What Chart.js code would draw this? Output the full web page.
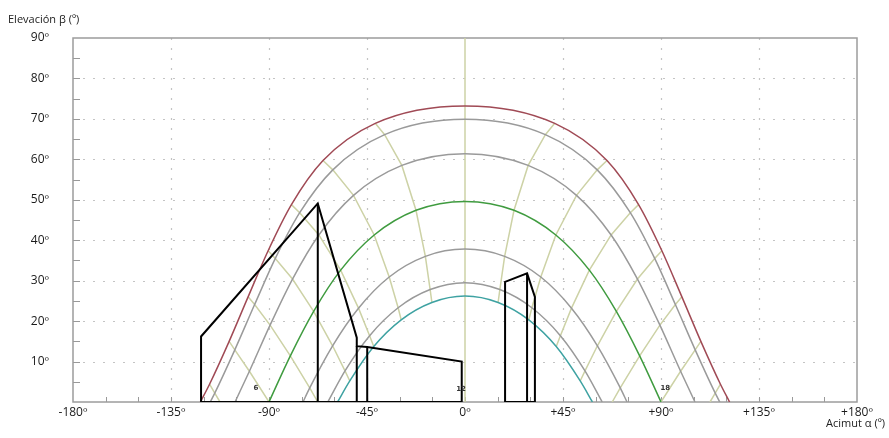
<!DOCTYPE html>
<html>
<head>
<meta charset="utf-8">
<script src="https://cdn.jsdelivr.net/npm/chart.js@4.4.1/dist/chart.umd.min.js"></script>
<style>
  body { margin: 0; background: #fff; }
  #wrap { width: 889px; height: 438px; }
</style>
</head>
<body>
<div id="wrap"><canvas id="sunChart" width="889" height="438"></canvas></div>
<script>
// axis ticks
const azTicks = [-180, -135, -90, -45, 0, 45, 90, 135, 180];
const azLabels = ['-180º', '-135º', '-90º', '-45º', '0º', '+45º', '+90º', '+135º', '+180º'];
const elTicks = [0, 10, 20, 30, 40, 50, 60, 70, 80, 90];
const elLabels = ['', '10º', '20º', '30º', '40º', '50º', '60º', '70º', '80º', '90º'];

// sun paths, [azimut, elevación] read at each solar hour
const pathJun = [[-121.5,0],[-117.3,4.4],[-108.3,15.0],[-99.6,26.0],[-90.4,37.4],[-79.7,48.8],[-65.2,59.7],[-41.2,68.9],[0,73.2],
                 [41.2,68.9],[65.2,59.7],[79.7,48.8],[90.4,37.4],[99.6,26.0],[108.3,15.0],[117.3,4.4],[121.5,0]];
const pathMay = [[-117.0,0],[-114.9,2.2],[-105.7,12.9],[-96.6,24.1],[-87.1,35.5],[-75.9,46.8],[-60.7,57.4],[-36.9,66.1],[0,69.9],
                 [36.9,66.1],[60.7,57.4],[75.9,46.8],[87.1,35.5],[96.6,24.1],[105.7,12.9],[114.9,2.2],[117.0,0]];
const pathApr = [[-105.6,0],[-99.0,7.6],[-89.5,19.0],[-79.2,30.4],[-67.1,41.3],[-51.2,51.1],[-29.0,58.5],[0,61.4],
                 [29.0,58.5],[51.2,51.1],[67.1,41.3],[79.2,30.4],[89.5,19.0],[99.0,7.6],[105.6,0]];
const pathMar = [[-90,0],[-80.2,11.4],[-69.5,22.4],[-57.1,32.6],[-41.7,41.3],[-22.5,47.4],[0,49.6],
                 [22.5,47.4],[41.7,41.3],[57.1,32.6],[69.5,22.4],[80.2,11.4],[90,0]];
const pathFeb = [[-74.4,0],[-71.3,3.5],[-60.8,13.9],[-48.9,23.2],[-34.8,30.9],[-18.2,36.0],[0,37.8],
                 [18.2,36.0],[34.8,30.9],[48.9,23.2],[60.8,13.9],[71.3,3.5],[74.4,0]];
const pathJan = [[-63.0,0],[-55.1,7.7],[-43.8,16.4],[-30.7,23.3],[-16.0,27.8],[0,29.5],
                 [16.0,27.8],[30.7,23.3],[43.8,16.4],[55.1,7.7],[63.0,0]];
const pathDec = [[-58.5,0],[-52.9,5.2],[-41.9,13.7],[-29.3,20.3],[-15.2,24.6],[0,26.2],
                 [15.2,24.6],[29.3,20.3],[41.9,13.7],[52.9,5.2],[58.5,0]];

// hour lines (solar time)
const hour5  = [[-117.3,4.4],[-114.9,2.2],[-112.5,0]];
const hour6  = [[-108.3,15.0],[-105.7,12.9],[-99.0,7.6],[-90,0]];
const hour7  = [[-99.6,26.0],[-96.6,24.1],[-89.5,19.0],[-80.2,11.4],[-71.3,3.5],[-67.6,0]];
const hour8  = [[-90.4,37.4],[-87.1,35.5],[-79.2,30.4],[-69.5,22.4],[-60.8,13.9],[-55.1,7.7],[-52.9,5.2]];
const hour9  = [[-79.7,48.8],[-75.9,46.8],[-67.1,41.3],[-57.1,32.6],[-48.9,23.2],[-43.8,16.4],[-41.9,13.7]];
const hour10 = [[-65.2,59.7],[-60.7,57.4],[-51.2,51.1],[-41.7,41.3],[-34.8,30.9],[-30.7,23.3],[-29.3,20.3]];
const hour11 = [[-41.2,68.9],[-36.9,66.1],[-29.0,58.5],[-22.5,47.4],[-18.2,36.0],[-16.0,27.8],[-15.2,24.6]];
const hour12 = [[0,0],[0,90]];
const hour13 = [[41.2,68.9],[36.9,66.1],[29.0,58.5],[22.5,47.4],[18.2,36.0],[16.0,27.8],[15.2,24.6]];
const hour14 = [[65.2,59.7],[60.7,57.4],[51.2,51.1],[41.7,41.3],[34.8,30.9],[30.7,23.3],[29.3,20.3]];
const hour15 = [[79.7,48.8],[75.9,46.8],[67.1,41.3],[57.1,32.6],[48.9,23.2],[43.8,16.4],[41.9,13.7]];
const hour16 = [[90.4,37.4],[87.1,35.5],[79.2,30.4],[69.5,22.4],[60.8,13.9],[55.1,7.7],[52.9,5.2]];
const hour17 = [[99.6,26.0],[96.6,24.1],[89.5,19.0],[80.2,11.4],[71.3,3.5],[67.6,0]];
const hour18 = [[108.3,15.0],[105.7,12.9],[99.0,7.6],[90,0]];
const hour19 = [[117.3,4.4],[114.9,2.2],[112.5,0]];

// hour marks written near the horizon
const hourText = ['6', '12', '18'];
const hourTextAz = [-96, -1.8, 92];
const hourTextEl = [3.3, 3.1, 3.3];

// obstacles (horizon profile)
const obst1 = [[-121.2,0],[-121.2,16.2],[-67.6,49.1],[-49.7,15.9],[-49.7,13.8],[-44.9,13.6],[-1.5,10.0],[-1.5,0],[-121.2,0]];
const obst1a = [[-67.6,49.1],[-67.6,0]];
const obst1b = [[-49.7,13.8],[-49.7,0]];
const obst1c = [[-44.9,13.6],[-44.9,0]];
const obst2 = [[18.4,0],[18.4,29.7],[28.5,31.8],[32.1,26.0],[32.1,0],[18.4,0]];
const obst2a = [[28.5,31.8],[28.5,0]];

const toXY = pts => pts.map(p => ({ x: p[0], y: p[1] }));

const datasets = [];
[obst1, obst1a, obst1b, obst1c, obst2, obst2a].forEach(o => datasets.push({
    data: toXY(o), showLine: true, borderColor: '#000', borderWidth: 2, pointRadius: 0, tension: 0
}));

const paths = [
    [pathJun, '#a04a55'], [pathMay, '#9a9a9a'], [pathApr, '#9a9a9a'], [pathMar, '#3f9b3f'],
    [pathFeb, '#9a9a9a'], [pathJan, '#9a9a9a'], [pathDec, '#3ea2a2']
];
paths.forEach(([p, c]) => datasets.push({
    data: toXY(p), showLine: true, borderColor: c, borderWidth: 1.5, pointRadius: 0,
    cubicInterpolationMode: 'monotone'
}));

[hour5, hour6, hour7, hour8, hour9, hour10, hour11, hour12,
 hour13, hour14, hour15, hour16, hour17, hour18, hour19].forEach(h => datasets.push({
    data: toXY(h), showLine: true, borderColor: '#cdd2a6', borderWidth: 1.5, pointRadius: 0, tension: 0
}));

const framePlugin = {
    id: 'frame',
    beforeDatasetsDraw(chart) {
        const { ctx, chartArea: a, scales: { x, y } } = chart;
        ctx.save();
        // dotted grid
        ctx.strokeStyle = '#c4c4c4';
        ctx.lineWidth = 1.2;
        ctx.setLineDash([2, 8]);
        elTicks.slice(1, -1).forEach(v => {
            const py = Math.round(y.getPixelForValue(v)) + 0.5;
            ctx.beginPath(); ctx.moveTo(a.left, py); ctx.lineTo(a.right, py); ctx.stroke();
        });
        azTicks.slice(1, -1).forEach(v => {
            if (v === 0) return;
            const px = Math.round(x.getPixelForValue(v)) + 0.5;
            ctx.beginPath(); ctx.moveTo(px, a.top); ctx.lineTo(px, a.bottom); ctx.stroke();
        });
        ctx.setLineDash([]);
        // inner ticks
        ctx.strokeStyle = '#999';
        ctx.lineWidth = 1;
        for (let v = 5; v < 90; v += 5) {
            const py = Math.round(y.getPixelForValue(v)) + 0.5;
            ctx.beginPath(); ctx.moveTo(a.left, py); ctx.lineTo(a.left + 7, py); ctx.stroke();
        }
        for (let v = -165; v < 180; v += 15) {
            const px = Math.round(x.getPixelForValue(v)) + 0.5;
            ctx.beginPath(); ctx.moveTo(px, a.bottom); ctx.lineTo(px, a.bottom - 5); ctx.stroke();
        }
        // frame
        ctx.strokeStyle = '#9c9c9c';
        ctx.lineWidth = 1.5;
        ctx.strokeRect(a.left, a.top, a.right - a.left, a.bottom - a.top);
        ctx.restore();
    },
    afterDatasetsDraw(chart) {
        const { ctx, scales: { x, y } } = chart;
        ctx.save();
        ctx.fillStyle = '#333';
        ctx.font = 'bold 7px "DejaVu Sans"';
        ctx.textAlign = 'center';
        ctx.textBaseline = 'middle';
        hourText.forEach((t, i) => {
            ctx.fillText(t, x.getPixelForValue(hourTextAz[i]), y.getPixelForValue(hourTextEl[i]));
        });
        ctx.restore();
    },
    afterDraw(chart) {
        const { ctx } = chart;
        ctx.save();
        ctx.fillStyle = '#222';
        ctx.font = '11px "Open Sans"';
        ctx.textBaseline = 'middle';
        ctx.textAlign = 'left';
        ctx.fillText('Elevación β (º)', 8, 20);
        ctx.textAlign = 'right';
        ctx.fillText('Acimut α (º)', 885, 424);
        ctx.restore();
    }
};

new Chart(document.getElementById('sunChart').getContext('2d'), {
    type: 'scatter',
    data: { datasets: datasets },
    plugins: [framePlugin],
    options: {
        responsive: false,
        animation: false,
        layout: { padding: { top: 38, right: 32, left: 0, bottom: 0 } },
        plugins: { legend: { display: false }, tooltip: { enabled: false } },
        scales: {
            x: {
                type: 'linear', min: -180, max: 180,
                afterBuildTicks: s => { s.ticks = azTicks.map(v => ({ value: v })); },
                afterFit: s => { s.height = 36; },
                grid: { display: false, drawTicks: false, tickLength: 0 },
                border: { display: false },
                ticks: {
                    padding: 3, maxRotation: 0, color: '#1a1a1a',
                    font: { family: 'Open Sans', size: 12 },
                    callback: v => azLabels[azTicks.indexOf(v)]
                }
            },
            y: {
                type: 'linear', min: 0, max: 90,
                afterBuildTicks: s => { s.ticks = elTicks.map(v => ({ value: v })); },
                afterFit: s => { s.width = 73; },
                grid: { display: false, drawTicks: false, tickLength: 0 },
                border: { display: false },
                ticks: {
                    padding: 24, color: '#1a1a1a',
                    font: { family: 'Open Sans', size: 12 },
                    callback: v => elLabels[elTicks.indexOf(v)]
                }
            }
        }
    }
});
</script>
</body>
</html>
